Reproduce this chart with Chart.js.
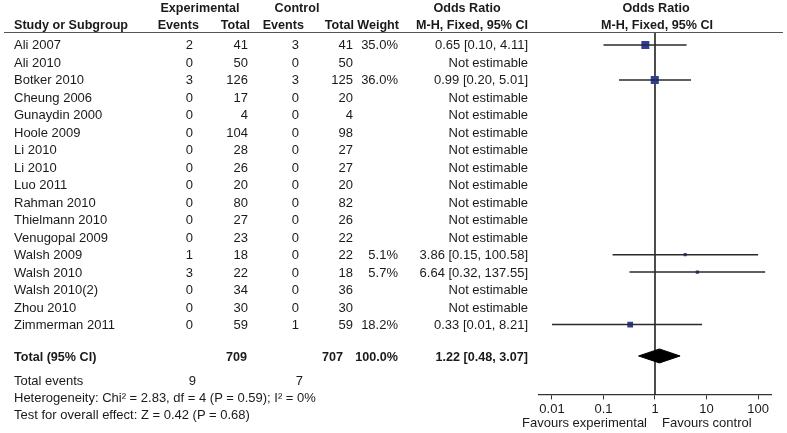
<!DOCTYPE html>
<html>
<head>
<meta charset="utf-8">
<script src="https://cdn.jsdelivr.net/npm/chart.js@4/dist/chart.umd.min.js"></script>
<style>
  html, body { margin: 0; padding: 0; background: #fff; }
  #wrap { position: relative; width: 787px; height: 433px; overflow: hidden;
    font-family: Arial, "Liberation Sans", sans-serif; font-size: 13px; color: #1a1a1a; }
  #wrap canvas { position: absolute; left: 0; top: 0; }
  .t { position: absolute; white-space: nowrap; line-height: 16px; }
  .b { font-weight: bold; font-size: 12.6px; }
  #rule { position: absolute; left: 4px; top: 32px; width: 779px; height: 0; border-top: 1.5px solid #555; }
</style>
</head>
<body>
<div id="wrap">
  <canvas id="forest" width="787" height="433"></canvas>
  <div id="rule"></div>
</div>
<script>
const studies = ['Ali 2007', 'Ali 2010', 'Botker 2010', 'Cheung 2006', 'Gunaydin 2000', 'Hoole 2009', 'Li 2010', 'Li 2010',
  'Luo 2011', 'Rahman 2010', 'Thielmann 2010', 'Venugopal 2009', 'Walsh 2009', 'Walsh 2010', 'Walsh 2010(2)', 'Zhou 2010', 'Zimmerman 2011'];
const expEvents = [2, 0, 3, 0, 0, 0, 0, 0, 0, 0, 0, 0, 1, 3, 0, 0, 0];
const expTotal = [41, 50, 126, 17, 4, 104, 28, 26, 20, 80, 27, 23, 18, 22, 34, 30, 59];
const ctrlEvents = [3, 0, 3, 0, 0, 0, 0, 0, 0, 0, 0, 0, 0, 0, 0, 0, 1];
const ctrlTotal = [41, 50, 125, 20, 4, 98, 27, 27, 20, 82, 26, 22, 22, 18, 36, 30, 59];
const weights = [35.0, null, 36.0, null, null, null, null, null, null, null, null, null, 5.1, 5.7, null, null, 18.2];
const oddsRatio = [0.65, null, 0.99, null, null, null, null, null, null, null, null, null, 3.86, 6.64, null, null, 0.33];
const ciLow = [0.10, null, 0.20, null, null, null, null, null, null, null, null, null, 0.15, 0.32, null, null, 0.01];
const ciHigh = [4.11, null, 5.01, null, null, null, null, null, null, null, null, null, 100.58, 137.55, null, null, 8.21];
const total = { expTotal: 709, ctrlTotal: 707, expEvents: 9, ctrlEvents: 7, weight: 100.0, or: 1.22, lo: 0.48, hi: 3.07 };
const xTicks = [0.01, 0.1, 1, 10, 100];

const ROW0 = 45, ROW_H = 17.5;
const TOTAL_ROW = 17.8;
const wrap = document.getElementById('wrap');

function txt(s, opts) {
  const d = document.createElement('div');
  d.className = 't' + (opts.bold ? ' b' : '');
  d.textContent = s;
  d.style.top = (opts.y - 8) + 'px';
  if (opts.right != null) d.style.right = (787 - opts.right) + 'px';
  else if (opts.center != null) { d.style.left = opts.center + 'px'; d.style.transform = 'translateX(-50%)'; }
  else d.style.left = opts.left + 'px';
  wrap.appendChild(d);
}

// header
txt('Experimental', { center: 200, y: 8, bold: true });
txt('Control', { center: 297, y: 8, bold: true });
txt('Odds Ratio', { center: 467, y: 8, bold: true });
txt('Odds Ratio', { center: 656, y: 8, bold: true });
txt('Study or Subgroup', { left: 14, y: 25, bold: true });
txt('Events', { right: 199, y: 25, bold: true });
txt('Total', { right: 250, y: 25, bold: true });
txt('Events', { right: 304, y: 25, bold: true });
txt('Total', { right: 354, y: 25, bold: true });
txt('Weight', { right: 399, y: 25, bold: true });
txt('M-H, Fixed, 95% CI', { right: 528, y: 25, bold: true });
txt('M-H, Fixed, 95% CI', { center: 657, y: 25, bold: true });

studies.forEach((s, i) => {
  const y = ROW0 + ROW_H * i;
  txt(s, { left: 14, y });
  txt(String(expEvents[i]), { right: 193, y });
  txt(String(expTotal[i]), { right: 248, y });
  txt(String(ctrlEvents[i]), { right: 299, y });
  txt(String(ctrlTotal[i]), { right: 353, y });
  if (weights[i] != null) txt(weights[i].toFixed(1) + '%', { right: 398, y });
  const orStr = oddsRatio[i] == null ? 'Not estimable'
    : `${oddsRatio[i].toFixed(2)} [${ciLow[i].toFixed(2)}, ${ciHigh[i].toFixed(2)}]`;
  txt(orStr, { right: 528, y });
});

const yTot = ROW0 + ROW_H * TOTAL_ROW;
txt('Total (95% CI)', { left: 14, y: yTot, bold: true });
txt(String(total.expTotal), { right: 247, y: yTot, bold: true });
txt(String(total.ctrlTotal), { right: 343, y: yTot, bold: true });
txt(total.weight.toFixed(1) + '%', { right: 398, y: yTot, bold: true });
txt(`${total.or.toFixed(2)} [${total.lo.toFixed(2)}, ${total.hi.toFixed(2)}]`, { right: 528, y: yTot, bold: true });
txt('Total events', { left: 14, y: 381 });
txt(String(total.expEvents), { right: 196, y: 381 });
txt(String(total.ctrlEvents), { right: 303, y: 381 });
txt('Heterogeneity: Chi\u00b2 = 2.83, df = 4 (P = 0.59); I\u00b2 = 0%', { left: 14, y: 398 });
txt('Test for overall effect: Z = 0.42 (P = 0.68)', { left: 14, y: 415 });
txt('Favours experimental', { right: 647, y: 423 });
txt('Favours control', { left: 662, y: 423 });

// forest plot
const SQUARE = '#2e3d9e';
const datasets = [];
studies.forEach((s, i) => {
  if (oddsRatio[i] == null) return;
  datasets.push({
    type: 'line',
    data: [{ x: ciLow[i], y: i }, { x: ciHigh[i], y: i }],
    borderColor: '#2a2a2a',
    borderWidth: 1.5,
    pointRadius: 0,
    fill: false,
  });
});
datasets.push({
  type: 'scatter',
  data: studies.map((s, i) => oddsRatio[i] == null ? null : { x: oddsRatio[i], y: i }).filter(Boolean),
  pointStyle: 'rect',
  // square area proportional to study weight
  pointRadius: weights.filter((w, i) => oddsRatio[i] != null).map(w => 0.95 * Math.sqrt(w)),
  backgroundColor: SQUARE,
  borderWidth: 0,
});
datasets.push({
  type: 'line',
  data: [
    { x: total.lo, y: TOTAL_ROW }, { x: total.or, y: TOTAL_ROW - 0.4 },
    { x: total.hi, y: TOTAL_ROW }, { x: total.or, y: TOTAL_ROW + 0.4 }, { x: total.lo, y: TOTAL_ROW },
  ],
  borderColor: '#000',
  borderWidth: 1,
  backgroundColor: '#000',
  pointRadius: 0,
  fill: 'shape',
});

const nullLine = {
  id: 'nullLine',
  beforeDatasetsDraw(chart) {
    const { ctx, chartArea, scales } = chart;
    const x = scales.x.getPixelForValue(1);
    ctx.save();
    ctx.strokeStyle = '#000';
    ctx.lineWidth = 1.4;
    ctx.beginPath();
    ctx.moveTo(x, chartArea.top);
    ctx.lineTo(x, chartArea.bottom);
    ctx.stroke();
    ctx.restore();
  }
};

new Chart(document.getElementById('forest'), {
  type: 'scatter',
  data: { datasets },
  plugins: [nullLine],
  options: {
    responsive: false,
    animation: false,
    layout: { padding: { left: 539, right: 16, top: 33, bottom: 14 } },
    plugins: { legend: { display: false }, tooltip: { enabled: false } },
    scales: {
      x: {
        type: 'logarithmic',
        min: 0.0056,
        max: 178.7,
        afterBuildTicks: (scale) => { scale.ticks = xTicks.map(v => ({ value: v })); },
        ticks: {
          callback: (v) => String(v),
          color: '#1a1a1a',
          font: { family: 'Arial, "Liberation Sans", sans-serif', size: 13 },
          padding: 2,
          maxRotation: 0,
          autoSkip: false,
        },
        grid: { drawOnChartArea: false, drawTicks: true, tickLength: 5, color: '#333' },
        border: { color: '#333', width: 1.3 },
      },
      y: {
        type: 'linear',
        display: false,
        reverse: true,
        min: (33 - ROW0) / ROW_H,
        max: (395 - ROW0) / ROW_H,
      },
    },
  },
});
</script>
</body>
</html>
